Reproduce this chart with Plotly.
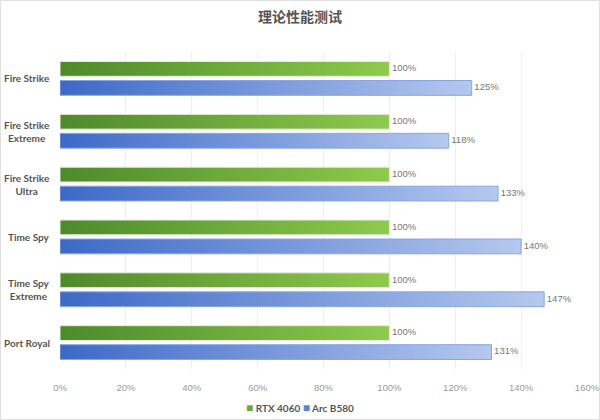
import plotly.graph_objects as go

categories = ["Fire Strike", "Fire Strike<br>Extreme", "Fire Strike<br>Ultra",
              "Time Spy", "Time Spy<br>Extreme", "Port Royal"]
rtx4060 = [100, 100, 100, 100, 100, 100]
arcb580 = [125, 118, 133, 140, 147, 131]
series_names = ["RTX 4060", "Arc B580"]
x_ticks = [0, 20, 40, 60, 80, 100, 120, 140, 160]

green_scale = [[0, "#4e8a2a"], [1, "#8dca4c"]]
blue_scale = [[0, "#3c69c8"], [1, "#b5c8ee"]]
green_line = "#e6eedb"
blue_line = "#8aa6e0"
green_solid = "#6aab3a"
blue_solid = "#5a85d6"

offset = 0.18
half = 0.14

W, H = 600, 420
ML, MR, MT, MB = 60, 13, 52, 51
PW, PH = W - ML - MR, H - MT - MB

fig = go.Figure()

def add_bars(values, name, scale, linecol, off, solid):
    for i, v in enumerate(values):
        yc = i + off
        xs = [0, v, v, 0, 0]
        ys = [yc - half, yc - half, yc + half, yc + half, yc - half]
        fig.add_trace(go.Scatter(
            x=xs, y=ys, mode="lines", fill="toself",
            line=dict(color=linecol, width=1),
            fillgradient=dict(type="horizontal", colorscale=scale, start=0, stop=v),
            fillcolor=solid,
            name=name, legendgroup=name, showlegend=False,
            hoverinfo="skip",
        ))
    fig.add_trace(go.Scatter(
        x=values, y=[i + off for i in range(len(values))],
        mode="text", text=[f" {v}%" for v in values],
        textposition="middle right",
        textfont=dict(family="Liberation Sans Narrow, Liberation Sans, Arial", size=9.5, color="#777777"),
        showlegend=False, hoverinfo="skip",
    ))

add_bars(rtx4060, series_names[0], green_scale, green_line, -offset, green_solid)
add_bars(arcb580, series_names[1], blue_scale, blue_line, offset, blue_solid)

legend_text = (f"<span style='color:{green_solid};font-size:12px'>■</span> {series_names[0]} "
               f"<span style='color:{blue_solid};font-size:12px'>■</span> {series_names[1]}")

annotations = [dict(text=legend_text, xref="paper", yref="paper", x=(300 - ML) / PW,
                    xanchor="center", y=-(407 - MT - PH) / PH, yanchor="middle",
                    showarrow=False,
                    font=dict(family="Lato", size=10, color="#555555", weight="bold"))]
for i, c in enumerate(categories):
    annotations.append(dict(text=c, xref="paper", yref="y", x=-8 / PW, xanchor="right",
                            y=i, yanchor="middle", align="center", showarrow=False,
                            font=dict(family="Lato", size=10, color="#555555", weight="bold")))

fig.update_layout(
    width=W, height=H,
    margin=dict(l=ML, r=MR, t=MT, b=MB),
    paper_bgcolor="white", plot_bgcolor="white",
    showlegend=False,
    title=dict(text="理论性能测试", x=0.5, xanchor="center", y=0.96, yanchor="middle",
               font=dict(family="Noto Sans CJK SC", size=14, color="#555555", weight="bold")),
    xaxis=dict(range=[0, 160], tickvals=x_ticks, ticktext=[f"{t}%" for t in x_ticks],
               showgrid=True, gridcolor="#eeeeee", gridwidth=1, zeroline=False,
               showline=False, ticks="", ticklabelstandoff=11, automargin=False,
               tickfont=dict(family="Liberation Sans Narrow, Liberation Sans, Arial", size=9.5, color="#999999")),
    yaxis=dict(range=[len(categories) - 0.5, -0.5], tickvals=list(range(len(categories))),
               ticktext=categories, showticklabels=False, showgrid=False, zeroline=False,
               showline=False, ticks="", automargin=False),
    annotations=annotations,
    shapes=[dict(type="rect", xref="paper", yref="paper",
                 x0=(-ML + 0.5) / PW, x1=(W - ML - 0.5) / PW,
                 y0=-(MB - 0.5) / PH, y1=1 + (MT - 0.5) / PH,
                 line=dict(color="#e0e0e0", width=1), layer="below")],
)

fig.write_html("out.html", config={"displayModeBar": False},
               post_script="document.body.style.margin='0';document.body.style.overflow='hidden';")
